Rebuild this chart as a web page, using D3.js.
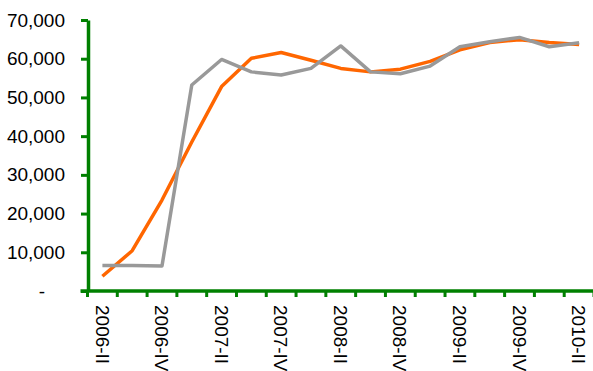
<!DOCTYPE html>
<html><head><meta charset="utf-8">
<script src="https://cdn.jsdelivr.net/npm/d3@7"></script>
<style>
html,body{margin:0;padding:0;background:#fff;overflow:hidden}
text{font-family:"Liberation Sans",Arial,sans-serif}
</style></head>
<body><svg id="c" width="593" height="371"></svg>
<script>
const categories = ["2006-II","2006-III","2006-IV","2007-I","2007-II","2007-III","2007-IV","2008-I","2008-II","2008-III","2008-IV","2009-I","2009-II","2009-III","2009-IV","2010-I","2010-II"];
const orangeValues = [3800,10400,23500,38500,52800,60100,61600,59600,57500,56600,57300,59300,62300,64200,64900,64200,63700];
const grayValues = [6600,6600,6450,53200,59800,56600,55800,57500,63300,56600,56100,58100,63100,64400,65500,63100,64100];
const yTicks = [0,10000,20000,30000,40000,50000,60000,70000];
const labelEvery = 2;

const svg = d3.select("#c");
const x = d3.scaleBand().domain(categories).range([87.5, 594]).padding(0);
const y = d3.scaleLinear().domain([0,70000]).range([291,20]);
const green = "#008000";

// lines
const line = (vals) => d3.line().x((d,i)=>x(categories[i])+x.bandwidth()/2).y(d=>y(d))(vals);
svg.append("path").attr("d", line(orangeValues)).attr("fill","none").attr("stroke","#FF6600").attr("stroke-width",3.5).attr("stroke-linejoin","round");
svg.append("path").attr("d", line(grayValues)).attr("fill","none").attr("stroke","#999999").attr("stroke-width",3.5).attr("stroke-linejoin","round");

// x axis
const xAxis = svg.append("g").attr("transform","translate(0,291)")
  .call(d3.axisBottom(x).tickSize(0).tickSizeOuter(0)
    .tickFormat((d,i)=> i%labelEvery===0 ? d : ""));
xAxis.select(".domain").attr("stroke",green).attr("stroke-width",3.5).attr("d","M80.5,0H600");
xAxis.selectAll(".tick text")
  .attr("transform","rotate(90)")
  .attr("x",14).attr("y",0).attr("dy","0.36em")
  .attr("text-anchor","start")
  .attr("font-size","19px").attr("fill","#000");
const bounds = categories.map(c=>x(c)).concat([x.range()[1]]);
xAxis.selectAll(".btick").data(bounds).enter().append("line")
  .attr("x1",d=>d).attr("x2",d=>d).attr("y1",0).attr("y2",6)
  .attr("stroke",green).attr("stroke-width",3);

// y axis
const yAxis = svg.append("g").attr("transform","translate(88,0)")
  .call(d3.axisLeft(y).tickValues(yTicks).tickSize(7).tickPadding(16).tickSizeOuter(0)
    .tickFormat(d=> d===0 ? "-" : d3.format(",")(d)));
yAxis.select(".domain").attr("stroke",green).attr("stroke-width",3.5);
yAxis.selectAll(".tick line").attr("stroke",green).attr("stroke-width",3);
yAxis.selectAll(".tick text").attr("font-size","19px").attr("fill","#000");
yAxis.selectAll(".tick text").filter(d=>d===0).attr("x",-46).attr("text-anchor","middle");
</script></body></html>
